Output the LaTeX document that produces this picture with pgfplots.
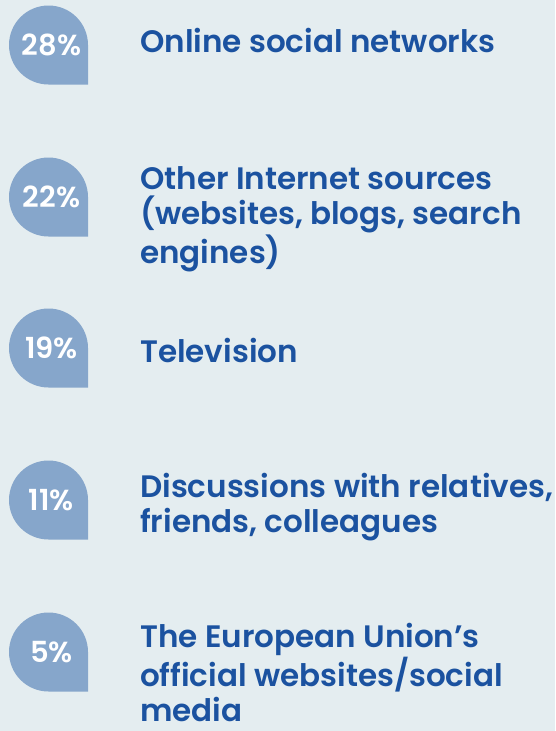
\documentclass[border=0pt]{standalone}
\usepackage{fontspec}
\setmainfont{Poppins}[BoldFont={Poppins SemiBold}]
\usepackage{pgfplots}
\pgfplotsset{compat=1.18}

\definecolor{bg}{HTML}{E4EDF0}
\definecolor{drop}{HTML}{86A6CB}
\definecolor{txt}{HTML}{1B52A0}

% circle with a square bottom-right corner
\pgfdeclareplotmark{drop}{%
  \pgfpathmoveto{\pgfqpoint{\pgfplotmarksize}{0pt}}%
  \pgfpathlineto{\pgfqpoint{\pgfplotmarksize}{-\pgfplotmarksize}}%
  \pgfpathlineto{\pgfqpoint{0pt}{-\pgfplotmarksize}}%
  \pgfpatharc{270}{0}{\pgfplotmarksize}%
  \pgfpathclose
  \pgfusepathqfill}

\begin{document}
\begin{tikzpicture}
\begin{axis}[
    scale only axis,
    width=555pt, height=731pt,
    xmin=0, xmax=555, ymin=0, ymax=731,
    y dir=reverse,
    axis line style={draw=none},
    ticks=none,
    axis background/.style={fill=bg},
    clip=false,
]
% percentage drops
\addplot[only marks, mark=drop, mark size=39.5pt, color=drop,
    point meta=explicit symbolic,
    nodes near coords={\pgfplotspointmeta},
    nodes near coords style={anchor=center, xshift=3pt, yshift=0pt,
        text=white, font=\bfseries\fontsize{29}{34}\selectfont}]
coordinates {
  (48.5,45)  [28\%]
  (48.5,197) [22\%]
  (48.5,348) [19\%]
  (48.5,500) [11\%]
  (48.5,652) [5\%]
};
% labels (y is the baseline of the last line)
\addplot[draw=none, mark=none,
    point meta=explicit symbolic,
    nodes near coords={\pgfplotspointmeta},
    nodes near coords style={anchor=base west, align=left, inner sep=0pt,
        text=txt, font=\bfseries\fontsize{31}{35}\selectfont}]
coordinates {
  (140,52)  [Online social networks]
  (140,263) [Other Internet sources\\(websites, blogs, search\\engines)]
  (140,362) [Television]
  (140,532) [Discussions with relatives,\\friends, colleagues]
  (140,721) [The European Union’s\\official websites/social\\media]
};
\end{axis}
\pgfresetboundingbox
\useasboundingbox (0,0) rectangle (555pt,731pt);
\end{tikzpicture}
\end{document}
